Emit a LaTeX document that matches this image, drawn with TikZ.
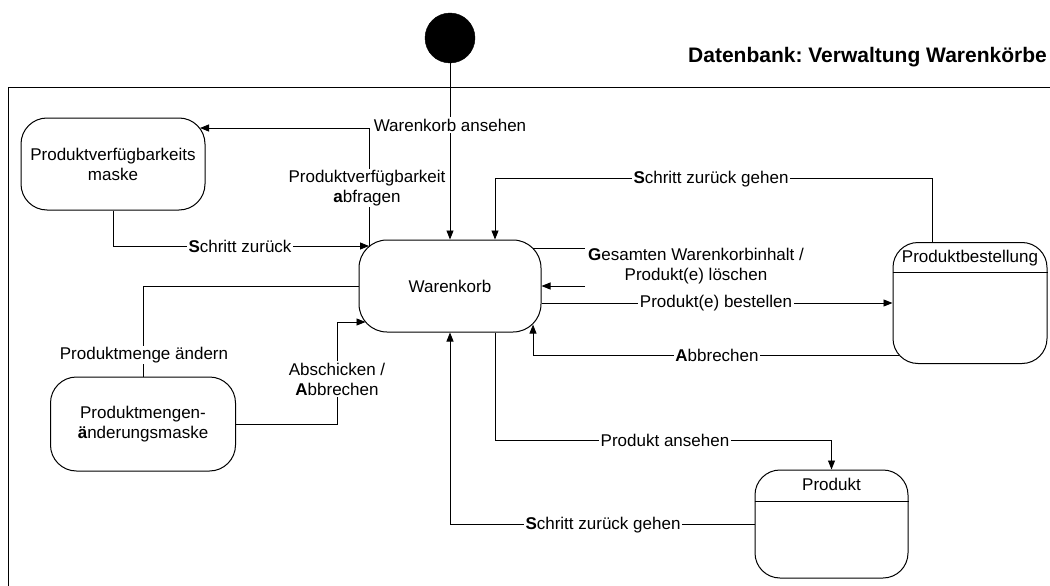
\documentclass[tikz,border=0pt]{standalone}
\usepackage{fontspec}
\setmainfont{Liberation Sans}
\usetikzlibrary{arrows.meta,calc}
\frenchspacing

\tikzset{
  state/.style={draw, line width=1pt, rounded corners=26pt, align=center,
    inner sep=0pt, font=\fontsize{17}{20}\selectfont},
  arr/.style={line width=0.8pt, -{Triangle[length=9pt,width=7pt]}},
  conn/.style={line width=0.8pt},
  lbl/.style={fill=white, inner sep=1.5pt, align=center,
    font=\fontsize{17}{20}\selectfont},
  frame/.style={line width=1pt},
}

\begin{document}
\begin{tikzpicture}[x=1pt,y=-1pt]
\useasboundingbox (0,0) rectangle (1050,586);

% outer frame and heading
\draw[frame] (8,586) -- (8,88) -- (1050,88);
\node[anchor=base east, inner sep=0pt, font=\fontsize{21}{24}\selectfont\bfseries] (title) at (1047,63)
  {Datenbank: Verwaltung Warenkörbe};

% states
\node[circle, fill=black, draw=black, minimum size=50pt, inner sep=0pt] (init) at (450,38) {};
\node[state, minimum width=182pt, minimum height=92pt, rounded corners=28pt] (wk) at (450,286) {Warenkorb};
\node[state, minimum width=184pt, minimum height=92pt] (pvm) at (113,164) {Produktverfügbarkeits\\maske};
\node[state, minimum width=185pt, minimum height=94pt] (pmm) at (143,424) {Produktmengen-\\\textbf{ä}nderungsmaske};
\node[state, minimum width=154pt, minimum height=121pt, rounded corners=25pt] (pb) at (970,303) {};
\node[state, minimum width=153pt, minimum height=108pt, rounded corners=25pt] (pr) at (831.5,524) {};

% compartment headers
\draw[line width=1pt] ($(pb.north west)+(0,30)$) -- ($(pb.north east)+(0,30)$);
\node[font=\fontsize{17}{20}\selectfont, inner sep=0pt] (pbname) at ($(pb.north)+(0,16)$) {Produktbestellung};
\draw[line width=1pt] ($(pr.north west)+(0,32)$) -- ($(pr.north east)+(0,32)$);
\node[font=\fontsize{17}{20}\selectfont, inner sep=0pt] (prname) at ($(pr.north)+(0,15)$) {Produkt};

% points on the rounded borders
\coordinate (wkA) at (369,246);
\coordinate (wkB) at (365.5,322);
\coordinate (wkC) at (532.6,248);
\coordinate (wkD) at (533,324.6);
\coordinate (pvmA) at (200,128);
\coordinate (pbD) at (899,355);
\coordinate (loopA) at (585,248);
\coordinate (loopB) at (585,286);

% transitions
\draw[arr] (init) -- (wk);
\node[lbl] (l1) at (450,125) {Warenkorb ansehen};

\draw[arr] (wkA) |- (pvmA);
\node[lbl] (l2) at (367,188) {Produktverfügbarkeit\\\textbf{a}bfragen};

\draw[arr] (pvm.south) |- (wkA);
\node[lbl] (l3) at (240,246) {\textbf{S}chritt zurück};

\draw[conn] (wk.west) -| (pmm.north);
\node[lbl] (l4) at (144,355) {Produktmenge ändern};

\draw[arr] (pmm.east) -| (337,322) -- (wkB);
\node[lbl] (l5) at (337,379) {Abschicken /\\\textbf{A}bbrechen};

\draw[arr] ($(pb.north)+(-38,0)$) |- ($(wk.north)+(45,-61)$) -- ($(wk.north)+(45,0)$);
\node[lbl] (l6) at (711,179) {\textbf{S}chritt zurück gehen};

\draw[conn] (wkC) -- (loopA);
\draw[arr] (loopB) -- (wk.east);
\node[lbl, fill=none] (l7) at (696,266) {\textbf{G}esamten Warenkorbinhalt /\\Produkt(e) löschen};

\draw[arr] ($(wk.east)+(0,17)$) -- (pb.west);
\node[lbl] (l8) at (716,303) {Produkt(e) bestellen};

\draw[arr] (pbD) -| (wkD);
\node[lbl] (l9) at (717,355) {\textbf{A}bbrechen};

\draw[arr] ($(wk.south)+(45,0)$) -- ++(0,108) -| (pr.north);
\node[lbl] (l10) at (665,440) {Produkt ansehen};

\draw[arr] (pr.west) -| (wk.south);
\node[lbl] (l11) at (603,525) {\textbf{S}chritt zurück gehen};
\end{tikzpicture}
\end{document}
